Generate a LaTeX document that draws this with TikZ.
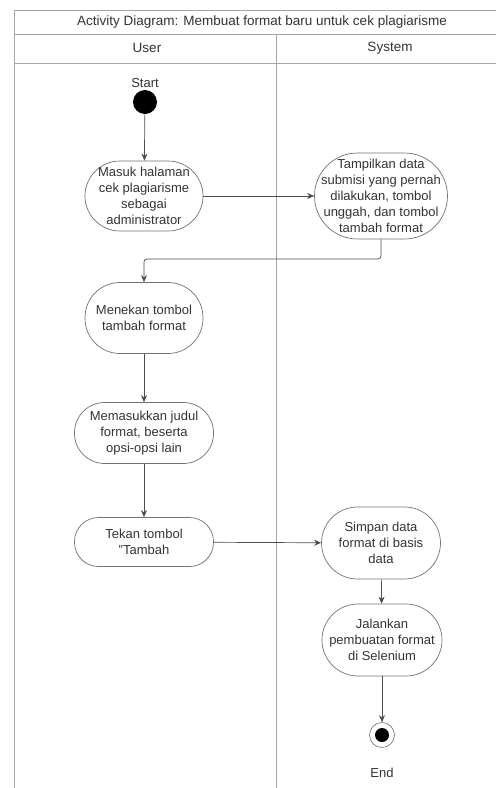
\documentclass[tikz,border=0pt]{standalone}
\usepackage{fontspec}
\setmainfont{Liberation Sans}
\usetikzlibrary{arrows.meta}
\definecolor{txt}{HTML}{333333}
\definecolor{frameline}{HTML}{A6A6A6}
\definecolor{edge}{HTML}{4D4D4D}
\begin{document}
\begin{tikzpicture}[x=1pt,y=-1pt,
  font=\fontsize{13}{16}\selectfont,
  lbl/.style={text=txt, inner sep=0pt},
  act/.style={draw=edge!80, line width=0.7pt, rounded corners=#1, align=center, text=txt, inner sep=0pt},
  flow/.style={draw=edge, line width=0.7pt, -{Stealth[length=7pt,width=6pt]}},
  lane/.style={draw=frameline, line width=0.9pt}]
\useasboundingbox (0,0) rectangle (496,788);
% swimlane frame
\draw[lane] (496,10) -- (14,10) -- (14,788);
\draw[lane] (14,34) -- (496,34);
\draw[lane] (14,63) -- (496,63);
\draw[lane] (276,34) -- (276,788);
\node[lbl, font=\fontsize{13.5}{16}\selectfont] (title) at (262,22) {Activity Diagram: Membuat format baru untuk cek plagiarisme};
\node[lbl, font=\fontsize{13.5}{16}\selectfont] (huser) at (147,48) {User};
\node[lbl, font=\fontsize{13.5}{16}\selectfont] (hsys) at (390,48) {System};
% start
\node[lbl] (starttxt) at (145,83) {Start};
\node[circle, fill=black, minimum size=24pt, inner sep=0pt] (start) at (145,102) {};
% activities
\node[act=35pt, minimum width=118pt, minimum height=70pt] (a1) at (144,196) {Masuk halaman\\cek plagiarisme\\sebagai\\administrator};
\node[act=43pt, minimum width=133pt, minimum height=86pt] (a2) at (381,196) {Tampilkan data\\submisi yang pernah\\dilakukan, tombol\\unggah, dan tombol\\tambah format};
\node[act=35pt, minimum width=118pt, minimum height=71pt] (a3) at (144,318) {Menekan tombol\\tambah format};
\node[act=30pt, minimum width=139pt, minimum height=61pt] (a4) at (144,433) {Memasukkan judul\\format, beserta\\opsi-opsi lain};
\node[act=24pt, minimum width=139pt, minimum height=49pt] (a5) at (144,542) {Tekan tombol\\"Tambah};
\node[act=36pt, minimum width=119pt, minimum height=72pt] (a6) at (381,543) {Simpan data\\format di basis\\data};
\node[act=36pt, minimum width=120pt, minimum height=72pt] (a7) at (382,640) {Jalankan\\pembuatan format\\di Selenium};
% end
\node[circle, draw=edge!80, line width=0.6pt, fill=white, minimum size=25pt, inner sep=0pt] (end) at (382,735) {};
\node[circle, fill=black, minimum size=14pt, inner sep=0pt] (endin) at (end.center) {};
\node[lbl] (endtxt) at (382,773) {End};
% flows
\draw[flow] (start) -- (a1);
\draw[flow] (a1) -- (a2);
\coordinate (bendR) at (a2.south |- 0,259);
\coordinate (bendL) at (a3.north |- 0,259);
\draw[flow, rounded corners=3pt] (a2.south) -- (bendR) -- (bendL) -- (a3.north);
\draw[flow] (a3) -- (a4);
\draw[flow] (a4) -- (a5);
\draw[flow] (a5) -- (a6);
\draw[flow] (a6) -- (a7);
\draw[flow] (a7) -- (end);
\end{tikzpicture}
\end{document}
